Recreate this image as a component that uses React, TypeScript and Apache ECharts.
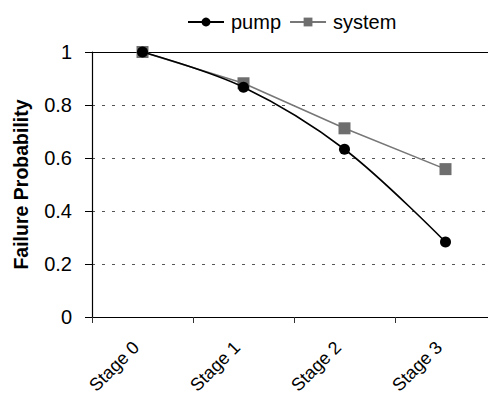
import React, { useEffect, useRef } from "react";
import * as echarts from "echarts";

const categories = ["Stage 0", "Stage 1", "Stage 2", "Stage 3"];
const pumpValues = [1, 0.867, 0.633, 0.283];
const systemValues = [1, 0.882, 0.712, 0.558];
const yTicks = [0, 0.2, 0.4, 0.6, 0.8, 1];

const FONT = "Arial";

export default function App() {
  const ref = useRef<HTMLDivElement>(null);
  useEffect(() => {
    if (!ref.current) return;
    const chart = echarts.init(ref.current, null, { renderer: "svg" });
    chart.setOption({
      animation: false,
      backgroundColor: "#ffffff",
      textStyle: { fontFamily: FONT },
      legend: {
        top: 7,
        left: 182,
        itemWidth: 36,
        itemHeight: 11,
        itemGap: 8,
        textStyle: { fontSize: 20, color: "#000", fontFamily: FONT, padding: [0, 0, 0, 2] },
        data: ["pump", "system"],
      },
      grid: {
        left: 92,
        top: 52,
        right: -8,
        bottom: 81,
        containLabel: false,
        outerBoundsMode: "none",
      },
      xAxis: [
        {
          type: "category",
          data: categories,
          boundaryGap: true,
          axisLine: { lineStyle: { color: "#000", width: 1.2 } },
          axisTick: { show: true, alignWithLabel: false, length: 6, lineStyle: { color: "#333" } },
          axisLabel: {
            rotate: 45,
            fontSize: 18,
            color: "#000",
            margin: 21,
            padding: [0, 9, 0, 0],
            fontFamily: FONT,
          },
          splitLine: { show: false },
        },
        {
          type: "category",
          data: categories,
          position: "top",
          axisLine: { show: true, lineStyle: { color: "#000", width: 1.2 } },
          axisTick: { show: false },
          axisLabel: { show: false },
          splitLine: { show: false },
        },
      ],
      yAxis: {
        type: "value",
        min: yTicks[0],
        max: yTicks[yTicks.length - 1],
        interval: 0.2,
        name: "Failure Probability",
        nameLocation: "middle",
        nameGap: 61,
        nameRotate: 90,
        nameTextStyle: { fontSize: 19.5, fontWeight: "bold", color: "#000", fontFamily: FONT },
        axisLine: { show: true, lineStyle: { color: "#000", width: 1.2 } },
        axisTick: { show: true, length: 7, lineStyle: { color: "#000" } },
        axisLabel: {
          fontSize: 20,
          color: "#000",
          margin: 20,
          fontFamily: FONT,
          formatter: (v: number) => String(Math.round(v * 10) / 10),
        },
        splitLine: { show: true, lineStyle: { color: "#555", type: [3, 7], width: 1 } },
      },
      series: [
        {
          name: "pump",
          type: "line",
          data: pumpValues,
          smooth: 0.35,
          symbol: "circle",
          symbolSize: 11,
          lineStyle: { color: "#000", width: 1.6 },
          itemStyle: { color: "#000" },
          z: 3,
        },
        {
          name: "system",
          type: "line",
          data: systemValues,
          symbol: "rect",
          symbolSize: 12,
          lineStyle: { color: "#777", width: 1.6 },
          itemStyle: { color: "#6e6e6e" },
          z: 2,
        },
      ],
    });
    return () => chart.dispose();
  }, []);
  return <div ref={ref} style={{ width: 488, height: 398, position: "absolute", left: 0, top: 0 }} />;
}
